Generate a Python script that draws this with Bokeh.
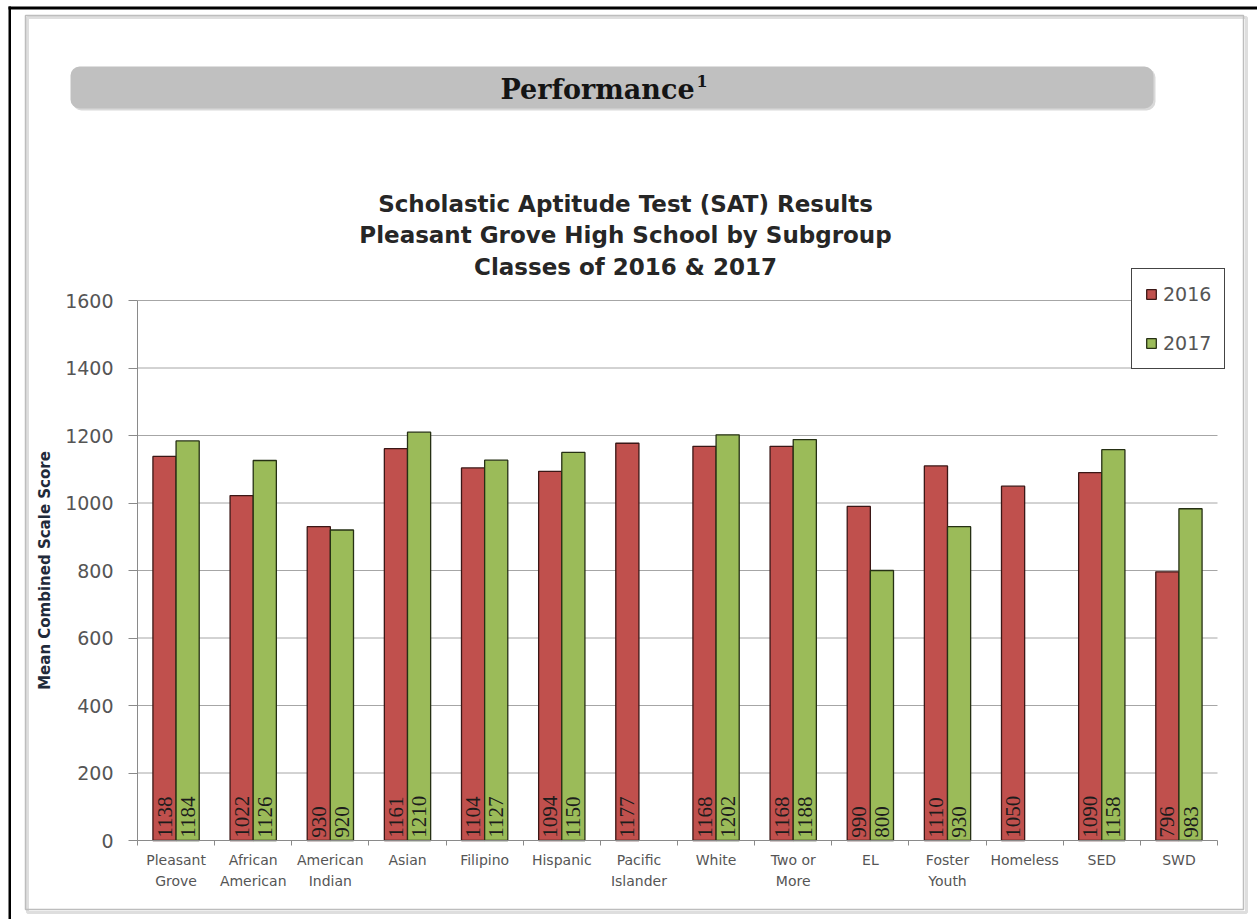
import numpy as np
from bokeh.plotting import figure
from bokeh.models import (ColumnDataSource, Range1d, FixedTicker, BoxAnnotation, Label,
                          Legend, LegendItem)
from bokeh.transform import dodge
from bokeh.core.properties import value
from bokeh.embed import file_html
from bokeh.resources import INLINE

# ---------------- data ----------------
categories = ["Pleasant\nGrove", "African\nAmerican", "American\nIndian", "Asian", "Filipino",
              "Hispanic", "Pacific\nIslander", "White", "Two or\nMore", "EL", "Foster\nYouth",
              "Homeless", "SED", "SWD"]
scores_2016 = [1138, 1022, 930, 1161, 1104, 1094, 1177, 1168, 1168, 990, 1110, 1050, 1090, 796]
scores_2017 = [1184, 1126, 920, 1210, 1127, 1150, None, 1202, 1188, 800, 930, None, 1158, 983]
years = ["2016", "2017"]
y_ticks = [0, 200, 400, 600, 800, 1000, 1200, 1400, 1600]
banner_text = "Performance"
banner_sup = "1"
title_lines = ["Scholastic Aptitude Test (SAT) Results",
               "Pleasant Grove High School by Subgroup",
               "Classes of 2016 & 2017"]
y_label = "Mean Combined Scale Score"

RED = "#C0504D"
GREEN = "#9BBB59"

# ---------------- layout (page pixels) ----------------
W, H = 1257, 919
PLOT_L, PLOT_R, PLOT_T, PLOT_B = 137, 1217, 300, 840   # where 0..n and 0..1600 sit
n = len(categories)
ymax = y_ticks[-1]
px_x = (PLOT_R - PLOT_L) / n
px_y = (PLOT_B - PLOT_T) / ymax
x_range = Range1d(-PLOT_L / px_x, n + (W - PLOT_R) / px_x)
y_range = Range1d(-(H - PLOT_B) / px_y, ymax + PLOT_T / px_y)

p = figure(width=W, height=H, output_backend="svg", toolbar_location=None,
           x_range=x_range, y_range=y_range,
           min_border_left=0, min_border_right=0, min_border_top=0, min_border_bottom=0)
p.outline_line_color = None
p.background_fill_color = "white"
p.border_fill_color = "white"
p.xgrid.grid_line_color = None
p.ygrid.grid_line_color = None


def sy(page_y):
    return H - page_y


def box(l, r, t, b, **kw):
    opts = dict(left=l, right=r, top=sy(t), bottom=sy(b),
                left_units="screen", right_units="screen",
                top_units="screen", bottom_units="screen",
                fill_alpha=1, line_alpha=1)
    opts.update(kw)
    return BoxAnnotation(**opts)

# panel frame and page rules (decoration)
p.add_layout(box(27, 1246, 17, 912, fill_color=None, line_color="#dedede", line_width=3,
                 level="underlay"))
p.add_layout(box(25, 1243, 15, 909, fill_color=None, line_color="#bdbdbd", line_width=1.5,
                 level="underlay"))
p.add_layout(box(8, 10.5, 6, H, fill_color="black", line_color=None))
p.add_layout(box(8, W, 6, 9, fill_color="black", line_color=None))

# banner
p.add_layout(box(72, 1155, 68, 110, fill_color="#d9d9d9", line_color=None, border_radius=9))
p.add_layout(box(70, 1153, 66, 108, fill_color="#c0c0c0", line_color=None, border_radius=9))
p.add_layout(Label(x=597, y=sy(89), x_units="screen", y_units="screen", text=banner_text,
                   text_align="center", text_baseline="middle",
                   text_font="DejaVu Serif", text_font_style="bold", text_font_size="27px",
                   text_color="#141414"))
p.add_layout(Label(x=696, y=sy(80), x_units="screen", y_units="screen", text=banner_sup,
                   text_align="left", text_baseline="middle",
                   text_font="DejaVu Serif", text_font_style="bold", text_font_size="16px",
                   text_color="#141414"))

# chart title
for line, yy in zip(title_lines, (203, 234, 266)):
    p.add_layout(Label(x=625, y=sy(yy), x_units="screen", y_units="screen", text=line,
                       text_align="center", text_baseline="middle",
                       text_font="DejaVu Sans", text_font_style="bold", text_font_size="23px",
                       text_color="#262626"))

# grid lines at the y ticks
p.segment(x0=0, x1=n, y0=y_ticks[1:], y1=y_ticks[1:], line_color="#a6a6a6", line_width=1)

# bars
def make_source(vals):
    idx = [i for i, v in enumerate(vals) if v is not None]
    return ColumnDataSource(dict(x=[i + 0.5 for i in idx],
                                 top=[vals[i] for i in idx],
                                 txt=[str(vals[i]) for i in idx]))

src16 = make_source(scores_2016)
src17 = make_source(scores_2017)

r16 = p.vbar(x=dodge("x", -0.15, range=p.x_range), top="top", width=0.3, bottom=0,
             source=src16, fill_color=RED, line_color="#3b1716", line_width=1.3)
r17 = p.vbar(x=dodge("x", 0.15, range=p.x_range), top="top", width=0.3, bottom=0,
             source=src17, fill_color=GREEN, line_color="#263014", line_width=1.3)

for src, off in ((src16, -0.15), (src17, 0.15)):
    p.text(x=dodge("x", off, range=p.x_range), y=8, text="txt", source=src,
           angle=np.pi / 2, text_align="left", text_baseline="middle",
           text_font=value("Liberation Serif"), text_font_size="21px", text_color="#1c1c1c")

# axes, pinned at the data origin
p.yaxis.fixed_location = 0
p.yaxis.bounds = (0, ymax)
p.yaxis.ticker = FixedTicker(ticks=y_ticks)
p.yaxis.axis_line_color = "#8a8a8a"
p.yaxis.major_tick_line_color = "#8a8a8a"
p.yaxis.major_tick_out = 9
p.yaxis.major_tick_in = 0
p.yaxis.minor_tick_line_color = None
p.yaxis.major_label_text_font = "DejaVu Sans"
p.yaxis.major_label_text_font_size = "19px"
p.yaxis.major_label_text_color = "#555555"
p.yaxis.major_label_standoff = 15
p.yaxis.axis_label = y_label
p.yaxis.axis_label_text_font = "DejaVu Sans"
p.yaxis.axis_label_text_font_style = "bold"
p.yaxis.axis_label_text_font_size = "15px"
p.yaxis.axis_label_text_color = "#1f2a3a"
p.yaxis.axis_label_standoff = 8

centers = [i + 0.5 for i in range(n)]
p.xaxis.fixed_location = 0
p.xaxis.bounds = (0, n)
p.xaxis.ticker = FixedTicker(ticks=centers, minor_ticks=list(range(n + 1)))
p.xaxis.major_label_overrides = {c: lab for c, lab in zip(centers, categories)}
p.xaxis.axis_line_color = "#8a8a8a"
p.xaxis.major_tick_line_color = None
p.xaxis.minor_tick_line_color = "#8a8a8a"
p.xaxis.minor_tick_out = 5
p.xaxis.minor_tick_in = 0
p.xaxis.major_label_text_font = "DejaVu Sans"
p.xaxis.major_label_text_font_size = "14px"
p.xaxis.major_label_text_color = "#555555"
p.xaxis.major_label_text_line_height = 1.35
p.xaxis.major_label_standoff = 5

# legend
legend = Legend(items=[LegendItem(label=years[0], renderers=[r16]),
                       LegendItem(label=years[1], renderers=[r17])],
                location=(1131, sy(369)), orientation="vertical",
                border_line_color="#444444", border_line_width=1.5, border_line_alpha=1,
                background_fill_color="white", background_fill_alpha=1,
                label_text_font="DejaVu Sans", label_text_font_size="19px",
                label_text_color="#555555", glyph_width=12, glyph_height=12,
                label_height=24, spacing=25, padding=13, margin=0, label_standoff=6)
p.add_layout(legend, "center")

open("out.html", "w").write(file_html(p, INLINE))
